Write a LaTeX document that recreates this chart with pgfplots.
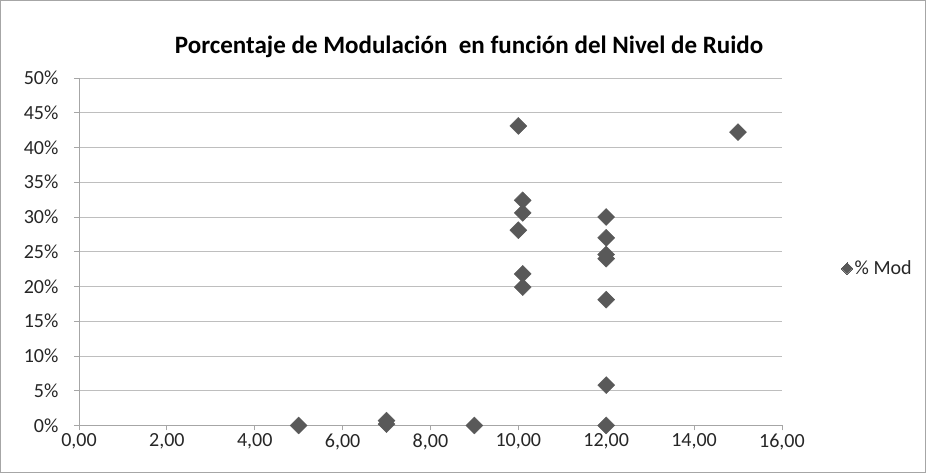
\documentclass[border=0pt]{standalone}
\usepackage{pgfplots}
\pgfplotsset{compat=1.18}
\usepackage{fontspec}
\setmainfont{Carlito}
\definecolor{mk}{HTML}{595959}
\definecolor{gridc}{HTML}{BEBEBE}
\definecolor{axc}{HTML}{A6A6A6}
\definecolor{txt}{HTML}{262626}
\begin{document}
\begin{tikzpicture}
\begin{axis}[
  at={(0,0)}, anchor=south west,
  scale only axis,
  width=702bp, height=347bp,
  xmin=0, xmax=16, ymin=0, ymax=50,
  xtick={0,2,...,16}, ytick={0,5,...,50},
  axis x line*=bottom, axis y line*=left,
  axis line style={axc, line width=0.8pt, -},
  ymajorgrids, grid style={gridc, line width=0.8pt},
  major tick style={axc, line width=0.8pt},
  tick align=outside, major tick length=5bp,
  /pgf/number format/assume math mode=true,
  xticklabel={\pgfmathprintnumber[fixed,fixed zerofill,precision=2,use comma]{\tick}},
  yticklabel={\pgfmathprintnumber[fixed,precision=0]{\tick}\%},
  ticklabel style={font=\fontsize{20bp}{22bp}\selectfont, text=txt},
  xticklabel style={yshift=0bp},
  yticklabel style={xshift=-12bp},
  title={\textbf{Porcentaje de Modulación\ \ en función del Nivel de Ruido}},
  title style={font=\fontsize{25bp}{27bp}\selectfont, at={(0.555,1)}, anchor=south, yshift=11bp},
  legend style={at={(1.08,0.452)}, anchor=west, draw=none, fill=none,
    font=\fontsize{20bp}{22bp}\selectfont, text=txt,
    legend cell align=left},
  legend image code/.code={
    \draw[mk, fill=mk, line width=0pt] plot[mark=square*, mark size=4bp, mark options={rotate=45}] coordinates {(0.2cm,0cm)};},
  clip=false,
]
\addplot[only marks, mark=square*, mark size=6bp, mark options={rotate=45, fill=mk, draw=mk}]
coordinates {
(5,0)
(7,0.7)
(7,0.2)
(9,0)
(10,43.1)
(10.1,32.4)
(10.1,30.6)
(10,28.1)
(10.1,21.8)
(10.1,19.9)
(12,30.0)
(12,27.0)
(12,24.6)
(12,24.0)
(12,18.1)
(12,5.8)
(12,0)
(15,42.2)
};
\addlegendentry{\% Mod}
\end{axis}
\draw[axc, line width=0.8pt] (-78.5bp,-46.5bp) rectangle (845.5bp,424.5bp);
\end{tikzpicture}
\end{document}
